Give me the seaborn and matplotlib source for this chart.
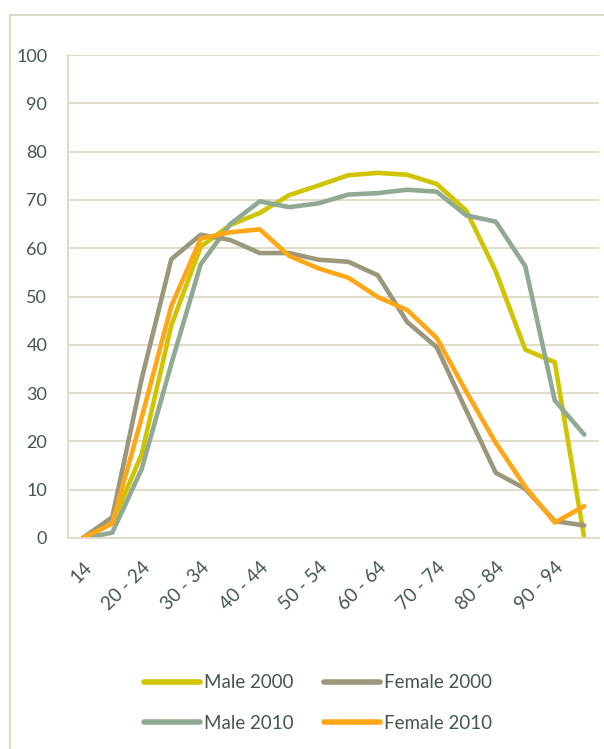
import matplotlib
matplotlib.use("Agg")
import matplotlib.pyplot as plt
import seaborn as sns
import pandas as pd
import numpy as np
from matplotlib.patches import Rectangle

# Categorías de edad
age_groups = ["14", "15 - 19", "20 - 24", "25 - 29", "30 - 34", "35 - 39", "40 - 44",
              "45 - 49", "50 - 54", "55 - 59", "60 - 64", "65 - 69", "70 - 74",
              "75 - 79", "80 - 84", "85 - 89", "90 - 94", "95 +"]

# Series
male_2000 = [0, 3, 17.4, 44, 60.3, 64.8, 67.3, 71, 73, 75.1, 75.6, 75.2, 73.3, 67.8, 55.2, 39, 36.4, 0]
female_2000 = [0, 4.3, 33, 57.7, 62.8, 61.7, 59, 59, 57.6, 57.2, 54.4, 44.7, 39.5, 26.4, 13.5, 10.2, 3.5, 2.6]
male_2010 = [0, 1.1, 14.3, 36, 56.7, 65, 69.7, 68.5, 69.3, 71.1, 71.4, 72.1, 71.7, 66.8, 65.5, 56.3, 28.5, 21.4]
female_2010 = [0, 3, 25, 48, 62, 63.3, 63.9, 58.4, 55.8, 53.9, 49.9, 47.2, 41.4, 30.3, 19.7, 10.6, 3.2, 6.6]

series = {
    "Male 2000": male_2000,
    "Male 2010": male_2010,
    "Female 2000": female_2000,
    "Female 2010": female_2010,
}
colors = {
    "Male 2000": "#d0c400",
    "Female 2000": "#9a977b",
    "Male 2010": "#8fa992",
    "Female 2010": "#ffa716",
}

rows = []
for name, vals in series.items():
    for i, v in enumerate(vals):
        rows.append({"pos": i, "value": v, "serie": name})
df = pd.DataFrame(rows)

sns.set_style("white")
plt.rcParams["font.family"] = ["Lato", "DejaVu Sans"]
text_color = "#44574a"
grid_color = "#dcdac4"

fig = plt.figure(figsize=(6.04, 7.49), dpi=100)
ax = fig.add_axes([68 / 604, 1 - 538 / 749, (599 - 68) / 604, (538 - 55) / 749])

sns.lineplot(data=df, x="pos", y="value", hue="serie", palette=colors,
             hue_order=list(series.keys()), linewidth=3.3, ax=ax,
             legend=False, solid_joinstyle="round", solid_capstyle="round")

ax.set_xlim(-0.5, len(age_groups) - 0.5)
ax.set_ylim(0, 100)
ax.set_yticks(range(0, 101, 10))
ax.yaxis.grid(True, color=grid_color, linewidth=1.3)
ax.set_axisbelow(True)

ax.set_xticks(range(0, len(age_groups), 2))
ax.set_xticklabels(age_groups[::2], rotation=45, ha="right", rotation_mode="anchor")
ax.set_xticks(np.arange(-0.5, len(age_groups), 1), minor=True)
ax.tick_params(axis="x", which="major", length=0, pad=15, labelsize=13.5, labelcolor=text_color)
ax.tick_params(axis="x", which="minor", length=5, color=grid_color, width=1.3)
ax.tick_params(axis="y", length=5, color=grid_color, width=1.3,
               labelsize=13, labelcolor=text_color, pad=10)
ax.set_xlabel("")
ax.set_ylabel("")

for s in ["top", "right"]:
    ax.spines[s].set_visible(False)
ax.spines["left"].set_color(grid_color)
ax.spines["bottom"].set_color(grid_color)
ax.spines["left"].set_linewidth(1.3)
ax.spines["bottom"].set_linewidth(1.3)

# Borde exterior del área del gráfico
fig.patches.append(Rectangle((10 / 604, -0.01), 1.0, 1 - 15 / 749 + 0.01,
                             transform=fig.transFigure, fill=False,
                             edgecolor="#dcdac4", linewidth=1.5))

# Leyenda
handles = [plt.Line2D([0], [0], color=colors[n], linewidth=4, solid_capstyle="round")
           for n in series.keys()]
leg = fig.legend(handles, list(series.keys()), loc="center", ncol=2,
                 bbox_to_anchor=(318 / 604, 1 - 703 / 749), frameon=False,
                 fontsize=13.5, handlelength=3.0, handletextpad=0.2,
                 columnspacing=1.6, labelspacing=1.25)
for t in leg.get_texts():
    t.set_color(text_color)

fig.savefig("out.png", dpi=100)
